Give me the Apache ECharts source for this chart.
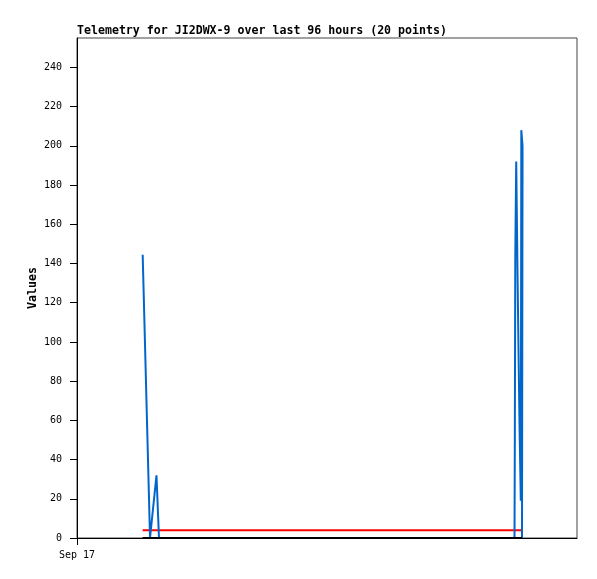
<!DOCTYPE html>
<html>
<head>
<meta charset="utf-8">
<script src="https://cdn.jsdelivr.net/npm/echarts@6/dist/echarts.min.js"></script>
<style>html,body{margin:0;padding:0;background:#fff}#c{width:597px;height:579px}</style>
</head>
<body>
<div id="c"></div>
<script>
const titleText = 'Telemetry for JI2DWX-9 over last 96 hours (20 points)';
const yTicks = [0,20,40,60,80,100,120,140,160,180,200,220,240];
const xTickLabel = 'Sep 17';
// hours since start of window
const blueHours  = [12.61, 14.02, 15.26, 15.74, 84.0, 84.06, 84.15, 84.33, 84.58, 84.77, 84.96, 85.21, 85.31, 85.54, 85.54, 85.44];
const blueValues = [144.5, 0, 32, 0, 0, 48, 144, 192, 135, 96, 58, 19, 208, 200, 191, 0];
const refHours    = [12.61, 85.44];
const redValues   = [4, 4];
const blackValues = [0, 0];

const pair = (xs, ys) => xs.map((x, i) => [x, ys[i]]);
const mono = 'DejaVu Sans Mono';
const chart = echarts.init(document.getElementById('c'), null, {renderer: 'canvas'});
chart.setOption({
  animation: false,
  backgroundColor: '#fff',
  title: {
    text: titleText, left: 77, top: 25, padding: 0,
    textStyle: {fontFamily: mono, fontSize: 11.6, fontWeight: 'bold', color: '#000'}
  },
  grid: {left: 77, right: 20, top: 38, bottom: 41, show: true, borderColor: '#444', borderWidth: 1, backgroundColor: 'transparent'},
  xAxis: {
    type: 'value', min: 0, max: 96,
    axisLine: {show: true, lineStyle: {color: '#000', width: 1}},
    axisTick: {show: true, length: 7, customValues: [0], lineStyle: {color: '#000'}},
    axisLabel: {show: true, customValues: [0], formatter: () => xTickLabel, margin: 12,
      fontFamily: mono, fontSize: 10, color: '#000'},
    splitLine: {show: false}
  },
  yAxis: {
    type: 'value', min: 0, max: 255, interval: 20,
    name: 'Values', nameLocation: 'middle', nameGap: 38, nameMoveOverlap: false,
    nameTextStyle: {fontFamily: mono, fontSize: 11.6, fontWeight: 'bold', color: '#000'},
    axisLine: {show: true, lineStyle: {color: '#000', width: 1}},
    axisTick: {show: true, length: 7, customValues: yTicks, lineStyle: {color: '#000'}},
    axisLabel: {customValues: yTicks, margin: 15, fontFamily: mono, fontSize: 10, color: '#000'},
    splitLine: {show: false}
  },
  series: [
    {type: 'line', data: pair(refHours, redValues), symbol: 'none', lineStyle: {color: '#ff0000', width: 2}, z: 3},
    {type: 'line', data: pair(blueHours, blueValues), symbol: 'none', lineStyle: {color: '#0066cc', width: 2}, z: 4},
    {type: 'line', data: pair(refHours, blackValues), symbol: 'none', lineStyle: {color: '#000', width: 2}, z: 5}
  ]
});
</script>
</body>
</html>
